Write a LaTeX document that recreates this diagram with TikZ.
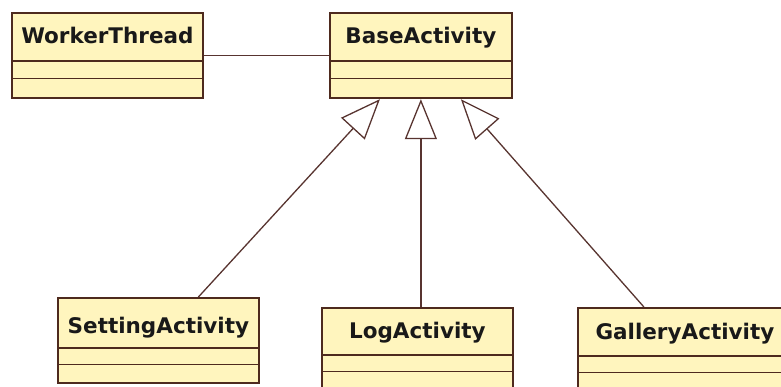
\documentclass[tikz,border=0pt]{standalone}
\usepackage{fontspec}
\setmainfont{DejaVu Sans}
\usepackage{tikz}
\usetikzlibrary{shapes.multipart, arrows.meta, positioning}
\definecolor{clsfill}{RGB}{255,245,190}
\definecolor{clsline}{RGB}{78,42,30}
\definecolor{edgeline}{RGB}{88,52,48}
% name compartment (label, depth below baseline, height), then two empty compartments
\newcommand{\classparts}[6]{\rule[-#2pt]{0pt}{#3pt}#1\nodepart{two}\rule{0pt}{#4pt}\nodepart{three}\rule{0pt}{#5pt}#6}
\tikzset{
  umlclass/.style={rectangle split, rectangle split parts=3, draw=clsline, fill=clsfill,
    line width=1.8pt, inner xsep=0pt, inner ysep=0pt, anchor=north west,
    font=\fontsize{21.5}{25}\selectfont\bfseries, text=black!90},
  generalization/.style={-{Triangle[open, length=40pt, width=32pt, line width=1.3pt]},
    line width=1.3pt, color=edgeline},
  association/.style={line width=1.3pt, color=edgeline}
}

\begin{document}
\begin{tikzpicture}[x=1pt, y=-1pt]
  \clip (0,0) rectangle (781,387);
  \fill[white] (0,0) rectangle (781,387);
  % ── Classes ───────────────────────────────────────────────────────────────
  \node[umlclass, minimum width=191pt] (WorkerThread) at (11,12) {\classparts{WorkerThread}{16}{46}{16}{18}{}};
  \node[umlclass, minimum width=182pt] (BaseActivity) at (329,12) {\classparts{BaseActivity}{16}{46}{16}{18}{}};
  \node[umlclass, minimum width=201pt] (SettingActivity) at (57,297) {\classparts{SettingActivity}{13}{48}{15}{17}{}};
  \node[umlclass, minimum width=191pt] (LogActivity) at (321,307) {\classparts{LogActivity}{15}{45}{15}{18}{}};
  \node[umlclass, minimum width=214pt] (GalleryActivity) at (577,307) {\classparts{GalleryActivity}{15}{46}{15}{18}{}};

  % ── Association ───────────────────────────────────────────────────────────
  \draw[association] (WorkerThread.east) -- (BaseActivity.west);

  % ── Generalizations ───────────────────────────────────────────────────────
  \draw[generalization] ([xshift=40pt]SettingActivity.north) -- ([xshift=-41pt]BaseActivity.south);
  \draw[generalization] (LogActivity.north -| BaseActivity.south) -- (BaseActivity.south);
  \draw[generalization] ([xshift=-41pt]GalleryActivity.north) -- ([xshift=40pt]BaseActivity.south);
\end{tikzpicture}
\end{document}
